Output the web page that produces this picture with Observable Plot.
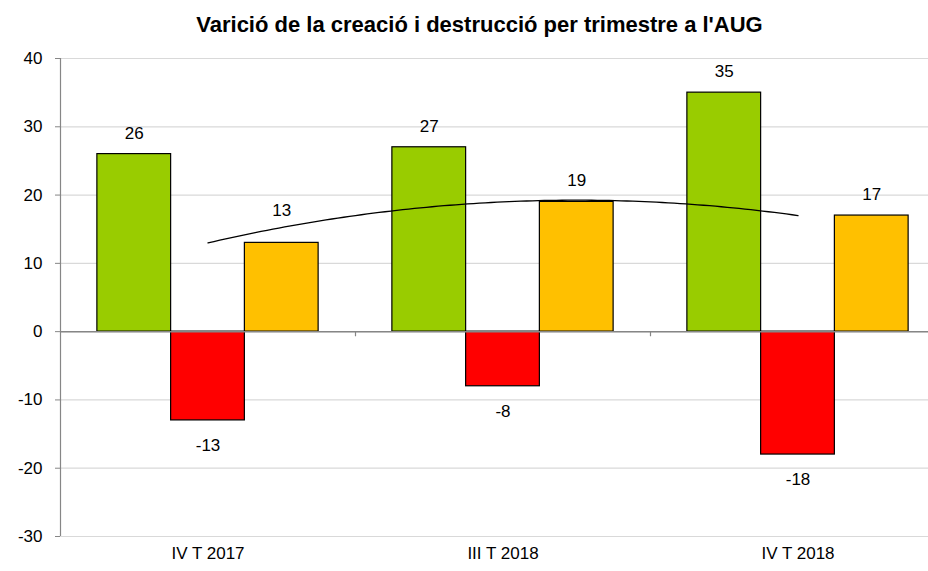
<!DOCTYPE html>
<html>
<head>
<meta charset="utf-8">
<script src="https://cdn.jsdelivr.net/npm/d3@7"></script>
<script src="https://cdn.jsdelivr.net/npm/@observablehq/plot@0.6"></script>
<style>
  html, body { margin: 0; padding: 0; background: #fff; overflow: hidden; }
  body { width: 928px; height: 571px; font-family: "Liberation Sans", Arial, sans-serif; }
  #title { height: 45px; box-sizing: border-box; padding-top: 14px; padding-left: 31px; text-align: center;
           font-size: 22px; font-weight: bold; line-height: 22px; color: #000; white-space: nowrap; }
  #chart svg { display: block; overflow: hidden; }
</style>
</head>
<body>
<div id="title">Varició de la creació i destrucció per trimestre a l'AUG</div>
<div id="chart"></div>
<script>
// ---- data ----
const groups = ["IV T 2017", "III T 2018", "IV T 2018"];
const seriesNames = ["Creació", "Destrucció", "Variació"];
const creacio = [26, 27, 35];
const destruccio = [-13, -8, -18];
const variacio = [13, 19, 17];
const seriesColors = ["#99CC00", "#FF0000", "#FFC000"];
const yTicks = [-30, -20, -10, 0, 10, 20, 30, 40];

// ---- build table ----
const seriesValues = [creacio, destruccio, variacio];
const rows = [];
groups.forEach((g, i) => {
  seriesValues.forEach((vals, j) => {
    rows.push({group: g, gi: i, series: seriesNames[j], sj: j, value: vals[i]});
  });
});

// group layout in x (linear units: each group is 1 unit wide)
const gap = 0.125, barW = 0.25;
const bx1 = d => d.gi + gap + barW * d.sj;
const bx2 = d => d.gi + gap + barW * (d.sj + 1);
const bxc = d => d.gi + gap + barW * (d.sj + 0.5);

// polynomial (order 2) trendline of the net series, as in the spreadsheet
function polyFit2(xs, ys) {
  const n = xs.length;
  let S = [0,0,0,0,0], T = [0,0,0];
  for (let k = 0; k < n; k++) {
    const x = xs[k], y = ys[k];
    for (let p = 0; p <= 4; p++) S[p] += Math.pow(x, p);
    for (let p = 0; p <= 2; p++) T[p] += Math.pow(x, p) * y;
  }
  const M = [[S[4], S[3], S[2], T[2]], [S[3], S[2], S[1], T[1]], [S[2], S[1], S[0], T[0]]];
  for (let c = 0; c < 3; c++) {
    let piv = c;
    for (let r = c + 1; r < 3; r++) if (Math.abs(M[r][c]) > Math.abs(M[piv][c])) piv = r;
    [M[c], M[piv]] = [M[piv], M[c]];
    for (let r = 0; r < 3; r++) if (r !== c) {
      const f = M[r][c] / M[c][c];
      for (let k = c; k < 4; k++) M[r][k] -= f * M[c][k];
    }
  }
  const a = M[0][3] / M[0][0], b = M[1][3] / M[1][1], c = M[2][3] / M[2][2];
  return x => a * x * x + b * x + c;
}
const gx = groups.map((g, i) => i + 0.5);
const trendFn = polyFit2(gx, variacio);
const trend = d3.range(0.5, 2.5001, 0.02).map(x => ({x, y: trendFn(x)}));

const labelPos = rows.filter(d => d.value >= 0 && !(d.gi === 0 && d.sj === 2));
const labelSpecial = rows.filter(d => d.gi === 0 && d.sj === 2);
const labelNeg = rows.filter(d => d.value < 0);

const axisGray = "#868686";
const fs = 17;

const chart = Plot.plot({
  width: 928,
  height: 526,
  marginLeft: 60,
  marginRight: 0,
  marginTop: 13,
  marginBottom: 35,
  style: {fontFamily: "'Liberation Sans', Arial, sans-serif", fontSize: fs + "px", background: "#fff", color: "#000"},
  x: {domain: [0, 3], range: [60, 945], axis: null},
  y: {domain: [-30, 40], axis: null},
  marks: [
    Plot.gridY(yTicks, {stroke: "#d9d9d9", strokeOpacity: 1, strokeWidth: 1.2}),
    Plot.ruleX([0], {y1: -30, y2: 40, stroke: axisGray, strokeWidth: 1.2}),
    Plot.axisY({ticks: yTicks, tickSize: 5, tickPadding: 13, stroke: axisGray, fontSize: fs, color: "#000", tickFormat: d => String(d), label: null}),
    Plot.rectY(rows, {x1: bx1, x2: bx2, y1: 0, y2: "value",
      fill: d => seriesColors[d.sj], stroke: "#000", strokeWidth: 1.2}),
    Plot.ruleY([0], {stroke: axisGray, strokeWidth: 1.5}),
    Plot.ruleX([1, 2], {y1: 0, y2: -0.75, stroke: axisGray, strokeWidth: 1.2}),
    Plot.line(trend, {x: "x", y: "y", stroke: "#000", strokeWidth: 1.3}),
    Plot.text(labelPos, {x: bxc, y: "value", text: d => String(d.value), dy: -21, fontSize: fs, fill: "#000"}),
    Plot.text(labelSpecial, {x: bxc, y: "value", text: d => String(d.value), dy: -32, fontSize: fs, fill: "#000"}),
    Plot.text(labelNeg, {x: bxc, y: "value", text: d => String(d.value), dy: 25, fontSize: fs, fill: "#000"}),
    Plot.text(groups, {x: (d, i) => i + 0.5, y: () => -30, text: d => d, dy: 17, fontSize: fs, fill: "#000"})
  ]
});
document.getElementById("chart").appendChild(chart);
</script>
</body>
</html>
